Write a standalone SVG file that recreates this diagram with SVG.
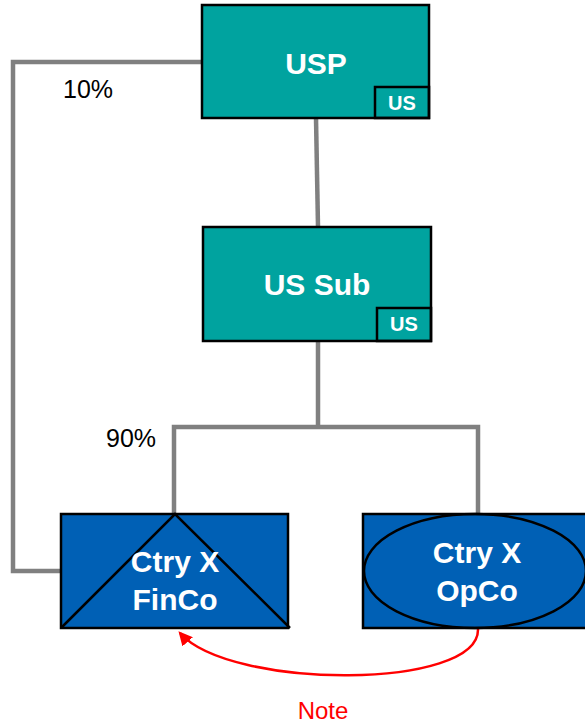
<svg xmlns="http://www.w3.org/2000/svg" width="585" height="725" viewBox="0 0 585 725">
<style>
.teal{fill:#00A39F;stroke:#000;stroke-width:2.5}
.blue{fill:#0060B5;stroke:#000;stroke-width:2.5}
.inner{fill:none;stroke:#000;stroke-width:2.5}
.big{font-family:"Liberation Sans",Arial,sans-serif;font-weight:bold;font-size:30px;fill:#fff;text-anchor:middle}
.small{font-family:"Liberation Sans",Arial,sans-serif;font-weight:bold;font-size:20px;fill:#fff;text-anchor:middle}
.pct{font-family:"Liberation Sans",Arial,sans-serif;font-size:25px;fill:#000}
.note{font-family:"Liberation Sans",Arial,sans-serif;font-size:24px;fill:#FF0000;text-anchor:middle}
.conn{fill:none;stroke:#808080;stroke-width:4.5}
</style>
<defs>
<marker id="arr" markerWidth="14" markerHeight="14" refX="10" refY="6" orient="auto" markerUnits="userSpaceOnUse" viewBox="0 0 12 12">
<path d="M0,0 L12,6 L0,12 z" fill="#FF0000"/>
</marker>
</defs>
<g id="connectors">
<path class="conn" d="M201,62 H13 V571 H61"/>
<path class="conn" d="M316,118 L318,227"/>
<path class="conn" d="M318,341 V427 M174,514 V427 H478 V514"/>
<path d="M478,629 C480,690 230,690 180,633" fill="none" stroke="#FF0000" stroke-width="2.5" marker-end="url(#arr)"/>
</g>
<g id="usp">
<rect class="teal" x="202" y="5" width="227" height="113"/>
<rect class="inner" x="375" y="87" width="54" height="31"/>
<text class="big" x="316" y="74">USP</text>
<text class="small" x="402" y="110">US</text>
</g>
<g id="ussub">
<rect class="teal" x="203" y="227" width="228" height="114"/>
<rect class="inner" x="377" y="308" width="54" height="33"/>
<text class="big" x="317" y="295">US Sub</text>
<text class="small" x="404" y="331">US</text>
</g>
<g id="finco">
<rect class="blue" x="61" y="514" width="227" height="114"/>
<path class="inner" d="M61,628 L175,514 L290,628"/>
<text class="big" x="175" y="572">Ctry X</text>
<text class="big" x="175" y="610">FinCo</text>
</g>
<g id="opco">
<rect class="blue" x="363" y="514" width="230" height="114"/>
<ellipse class="inner" cx="475" cy="571" rx="111" ry="57"/>
<text class="big" x="477" y="563">Ctry X</text>
<text class="big" x="477" y="601">OpCo</text>
</g>
<g id="labels">
<text class="pct" x="63" y="98">10%</text>
<text class="pct" x="106" y="447">90%</text>
<text class="note" x="323" y="719">Note</text>
</g>
</svg>
